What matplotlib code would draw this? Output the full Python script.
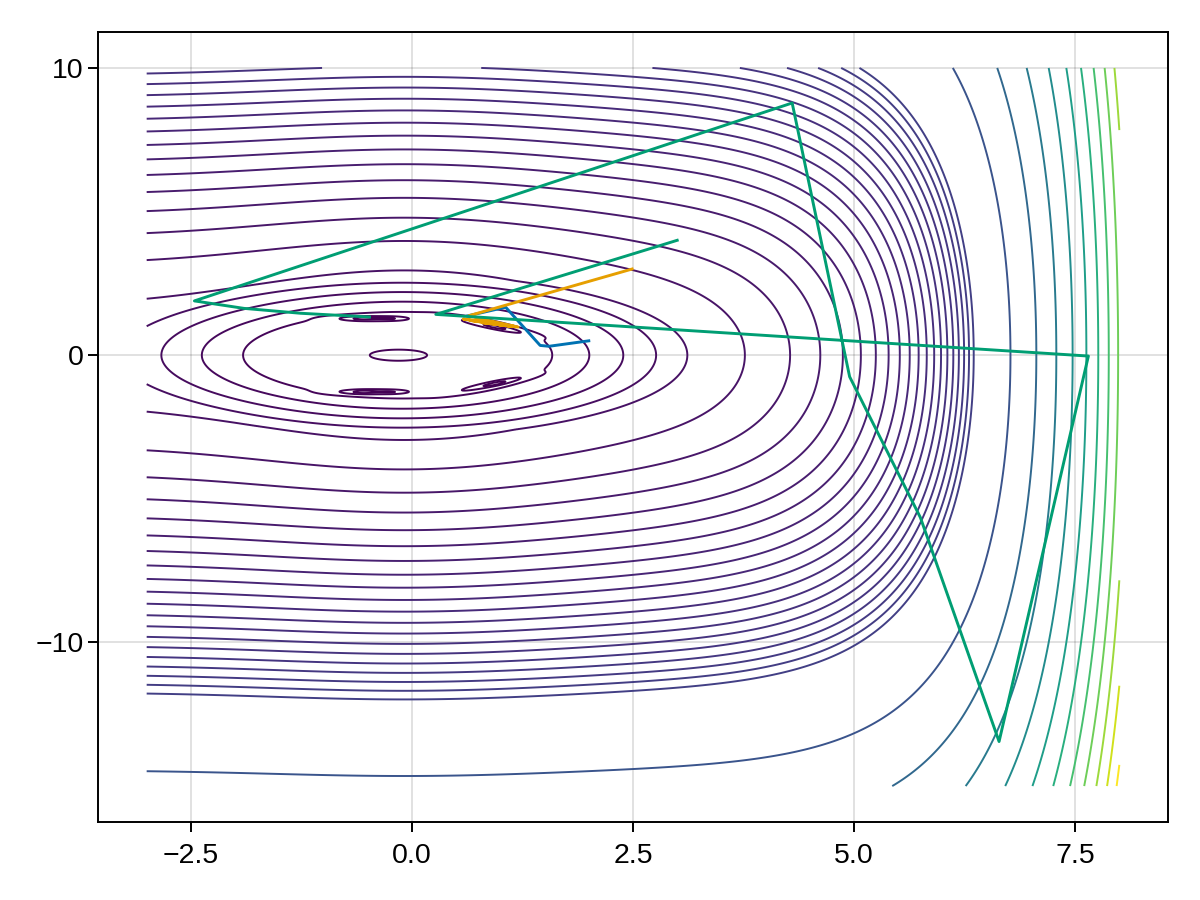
import numpy as np
import matplotlib.pyplot as plt

# grid of the surface
xs = np.linspace(-3, 8, 1101)
ys = np.linspace(-15, 10, 2501)

# contour levels: dense ones in the valley, sparse ones on the wall
valley_levels = [-38.74, -31.64, -24.54, -17.44, -10.34, -3.24, 3.86, 10.96, 18.06,
                 25.16, 32.26, 39.36, 46.46, 53.56, 60.66, 67.76, 74.86, 81.96,
                 89.06, 96.16, 103.26, 110.36, 117.46, 124.56, 131.66, 138.76]
wall_levels = [209.76, 280.76, 351.76, 422.76, 493.76, 564.76, 635.76, 706.76,
               777.76, 848.76, 919.76]

# small local minima near the origin: (cx, cy, length, width, angle deg, depth)
dips = [(-0.16, 0.0, 0.42, 0.24, 0.0, 3.5),
        (-0.47, 1.28, 0.40, 0.09, 0.0, 12.0),
        (-0.47, -1.28, 0.40, 0.09, 0.0, 12.0),
        (-0.58, 1.28, 0.12, 0.06, 0.0, 4.0),
        (-0.58, -1.28, 0.12, 0.06, 0.0, 4.0),
        (-0.22, 1.28, 0.12, 0.06, 0.0, 4.0),
        (-0.22, -1.28, 0.12, 0.06, 0.0, 4.0),
        (0.92, 1.0, 0.45, 0.08, -33.5, 12.0),
        (0.92, -1.0, 0.45, 0.08, 33.5, 12.0),
        (0.96, 0.99, 0.15, 0.05, -33.5, 4.0),
        (0.96, -0.99, 0.15, 0.05, 33.5, 4.0)]

# optimiser paths
blue_x = [2.0, 1.55, 1.45, 1.06, 0.63]
blue_y = [0.5, 0.31, 0.34, 1.67, 1.37]
orange_x = [2.49, 0.64, 1.2, 0.58, 1.18, 0.66, 1.15, 0.8, 1.12, 1.0]
orange_y = [3.0, 1.37, 0.98, 1.26, 0.99, 1.21, 1.0, 1.13, 1.01, 1.05]
green_x = [3.0, 0.27, 7.65, 6.64, 5.75, 4.95, 4.30, -2.46, -1.9, -1.26, -0.66, -0.48]
green_y = [4.0, 1.42, -0.03, -13.45, -5.65, -0.75, 8.78, 1.89, 1.63, 1.46, 1.36, 1.33]


def surface(x, y):
    # exponential wall on the right with a gentle dip in the middle
    wall = 0.24 * np.exp(x) - 6.0 * np.exp(-(x / 2.2) ** 2) + 0.92
    # flat bottomed valley around the origin
    a = np.where(x + 0.12 < 0, 3.44, 3.35)
    r = np.sqrt(((x + 0.12) / a) ** 2 + (y / 2.8) ** 2)
    d = 48.0 * np.clip(1 - r, 0, None)
    s = 1.5
    lo = np.minimum(d, 25.0)
    valley = -(lo - s * np.log1p(np.exp(-np.abs(d - 25.0) / s)))
    valley = np.minimum(valley, 0)
    z = y ** 2 + wall + valley
    for cx, cy, la, wa, ang, depth in dips:
        t = np.deg2rad(ang)
        u = (x - cx) * np.cos(t) + (y - cy) * np.sin(t)
        v = -(x - cx) * np.sin(t) + (y - cy) * np.cos(t)
        z = z - depth * np.exp(-(u / la) ** 2 - (v / wa) ** 2)
    return z


X, Y = np.meshgrid(xs, ys)
Z = surface(X, Y)

plt.rcParams['font.family'] = ['Liberation Sans', 'DejaVu Sans']

fig = plt.figure(figsize=(12, 9), dpi=100)
ax = fig.add_axes([0.0817, 0.0867, 0.8916, 0.8777])

levels = valley_levels + wall_levels
ax.contour(X, Y, Z, levels=levels, cmap='viridis', vmin=min(levels), vmax=max(levels),
           linewidths=1.4, zorder=2)

ax.plot(blue_x, blue_y, color='#0072b2', linewidth=2.1, zorder=3)
ax.plot(orange_x, orange_y, color='#e69f00', linewidth=2.1, zorder=3)
ax.plot(green_x, green_y, color='#009e73', linewidth=2.1, zorder=3)

ax.set_xlim(-3.55, 8.55)
ax.set_ylim(-16.25, 11.25)
ax.set_xticks([-2.5, 0.0, 2.5, 5.0, 7.5])
ax.set_xticklabels(['−2.5', '0.0', '2.5', '5.0', '7.5'])
ax.set_yticks([-10, 0, 10])
ax.set_yticklabels(['−10', '0', '10'])
ax.grid(True, color='black', alpha=0.12, linewidth=1.4)
ax.set_axisbelow(True)
ax.tick_params(axis='both', labelsize=20.5, length=7.2, width=1.4)
ax.tick_params(axis='x', pad=8)
ax.tick_params(axis='y', pad=3)
for sp in ax.spines.values():
    sp.set_linewidth(1.4)

fig.savefig('out.png', dpi=100)
